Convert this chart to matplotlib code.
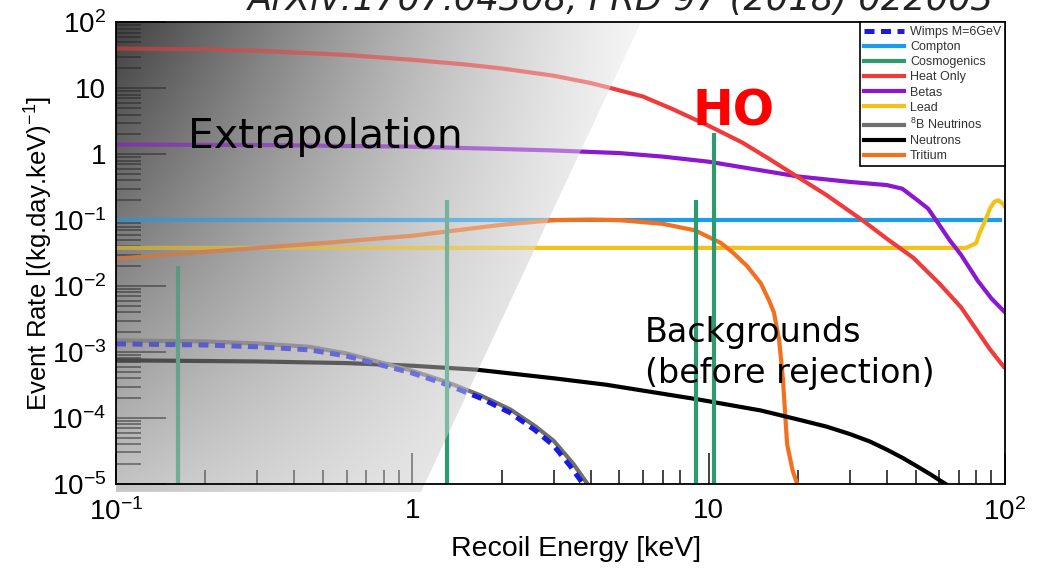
import matplotlib
matplotlib.use("Agg")
import matplotlib.pyplot as plt
import numpy as np
from matplotlib.patches import Polygon
from matplotlib.lines import Line2D

plt.rcParams['font.family'] = ['Liberation Sans', 'DejaVu Sans']
plt.rcParams['mathtext.fontset'] = 'custom'
plt.rcParams['mathtext.rm'] = 'Liberation Sans'
plt.rcParams['mathtext.it'] = 'Liberation Sans:italic'
plt.rcParams['mathtext.bf'] = 'Liberation Sans:bold'

# background spectra, recoil energy [keV] vs rate [(kg.day.keV)^-1]
wimp_x = [0.1, 0.2, 0.3, 0.45, 0.6, 0.76, 1.0, 1.31, 1.7, 2.14, 2.6, 3.0, 3.4, 3.77]
wimp_y = [1.33e-3, 1.28e-3, 1.2e-3, 1.08e-3, 8.7e-4, 6.6e-4, 4.8e-4, 3.2e-4, 2.0e-4, 1.2e-4, 6.5e-5, 3.8e-5, 1.9e-5, 1e-5]

compton_x = [0.1, 96]
compton_y = [0.1, 0.1]

cosmo_x = [0.162, 1.31, 9.06, 10.4]
cosmo_top = [0.02, 0.2, 0.2, 2.1]

heat_x = [0.1, 0.2, 0.3, 0.6, 1, 1.5, 2, 3, 4, 4.7, 6, 7.5, 10, 13, 16, 20, 25, 33, 40, 49, 60, 71, 89, 99]
heat_y = [40, 39, 37, 32, 27, 23, 20, 15.5, 12, 10, 7.5, 4.9, 2.7, 1.5, 0.85, 0.45, 0.24, 0.1, 0.052, 0.027, 0.011, 0.0048, 0.0011, 0.0006]

beta_x = [0.1, 0.3, 1, 2, 3, 5, 7, 10, 15, 20, 30, 40, 45, 50, 55, 60, 65, 71, 81, 90, 100]
beta_y = [1.4, 1.38, 1.3, 1.2, 1.14, 1.04, 0.92, 0.77, 0.57, 0.46, 0.38, 0.34, 0.3, 0.21, 0.15, 0.085, 0.05, 0.03, 0.012, 0.0065, 0.004]

lead_x = [0.1, 74, 80, 82, 85, 89, 92, 95, 98, 100]
lead_y = [0.038, 0.038, 0.045, 0.063, 0.09, 0.15, 0.19, 0.2, 0.18, 0.16]

b8_x = [0.1, 0.2, 0.3, 0.45, 0.6, 0.76, 1.0, 1.31, 1.7, 2.14, 2.6, 3.0, 3.5, 3.9]
b8_y = [1.5e-3, 1.45e-3, 1.35e-3, 1.2e-3, 9.5e-4, 7.2e-4, 5.2e-4, 3.5e-4, 2.2e-4, 1.35e-4, 7.5e-5, 4.5e-5, 2e-5, 1e-5]

neut_x = [0.1, 0.3, 0.6, 1, 1.65, 3, 4.5, 9.3, 15, 20, 25, 30, 35, 40, 45, 50, 56, 63]
neut_y = [7.5e-4, 7.2e-4, 6.8e-4, 6.2e-4, 5.4e-4, 4.0e-4, 3.2e-4, 1.9e-4, 1.3e-4, 9.5e-5, 7.4e-5, 5.7e-5, 4.4e-5, 3.3e-5, 2.5e-5, 1.9e-5, 1.4e-5, 1e-5]

trit_x = [0.1, 0.2, 0.5, 1, 2, 3, 4, 5, 7, 9, 11, 12, 13.5, 15, 16, 16.6, 17.3, 17.8, 18.4, 19.2, 19.9]
trit_y = [0.026, 0.033, 0.045, 0.058, 0.085, 0.1, 0.102, 0.1, 0.088, 0.07, 0.045, 0.033, 0.02, 0.011, 0.006, 0.004, 0.0015, 4e-4, 4e-5, 1.6e-5, 1e-5]

# shaded extrapolation region (keV, rate)
extrap_x = [0.1, 5.9, 1.07, 0.1]
extrap_y = [100, 100, 7.6e-6, 7.6e-6]

xticks = [0.1, 1, 10, 100]
xticklabels = ['10$^{-1}$', '1', '10', '10$^{2}$']
yticks = [1e-5, 1e-4, 1e-3, 1e-2, 1e-1, 1, 10, 100]
yticklabels = ['10$^{-5}$', '10$^{-4}$', '10$^{-3}$', '10$^{-2}$', '10$^{-1}$', '1', '10', '10$^{2}$']

fig = plt.figure(figsize=(10.45, 5.68), dpi=100)
ax = fig.add_axes([0.111, 0.148, 0.8507, 0.8127])
ax.set_xscale('log')
ax.set_yscale('log')
ax.set_xlim(0.1, 100)
ax.set_ylim(1e-5, 100)

lw = 3.0
h_comp, = ax.plot(compton_x, compton_y, color='#1a9bef', lw=lw, label='Compton')
h_lead, = ax.plot(lead_x, lead_y, color='#f3c21a', lw=lw, label='Lead')
h_trit, = ax.plot(trit_x, trit_y, color='#f2701e', lw=lw, label='Tritium')
h_neut, = ax.plot(neut_x, neut_y, color='black', lw=lw, label='Neutrons')
h_b8, = ax.plot(b8_x, b8_y, color='#6f6f6f', lw=lw, label='$^{8}$B Neutrinos')
h_wimp, = ax.plot(wimp_x, wimp_y, color='#1a1ae0', lw=3.6, ls=(0, (2.0, 1.3)),
                  label='Wimps M=6GeV')
h_beta, = ax.plot(beta_x, beta_y, color='#8b17cf', lw=lw, label='Betas')
h_heat, = ax.plot(heat_x, heat_y, color='#ef3b3b', lw=lw, label='Heat Only')
ax.vlines(cosmo_x, 1e-5, cosmo_top, color='#2d9a70', lw=lw)
h_cosmo = Line2D([], [], color='#2d9a70', lw=lw, label='Cosmogenics')

# grey gradient for the extrapolated low-energy part
nx, ny = 400, 300
gx0, gx1, gy0, gy1 = 0.0, 0.62, -0.02, 1.0
u = np.linspace(gx0, gx1, nx)[None, :] / gx1
w = np.linspace(0, 1, ny)[:, None]
shade = 64 + 185 * (1 - (1 - u) ** 1.3 * (1 - 0.72 * w))
shade = np.clip(shade, 0, 255) / 255.0
rgb = np.dstack([shade, shade, shade])

clip = Polygon(list(zip(extrap_x, extrap_y)), closed=True, transform=ax.transData)
for z, a in [(1.0, 1.0), (2.3, 0.45)]:
    im = ax.imshow(rgb, extent=(gx0, gx1, gy0, gy1), transform=ax.transAxes,
                   aspect='auto', origin='upper', zorder=z, alpha=a,
                   interpolation='bilinear')
    im.set_clip_path(clip)
    im.set_clip_box(fig.bbox)
ax.set_xlim(0.1, 100)
ax.set_ylim(1e-5, 100)

ax.set_xticks(xticks)
ax.set_xticklabels(xticklabels)
ax.set_yticks(yticks)
ax.set_yticklabels(yticklabels)
ax.tick_params(axis='both', which='both', direction='in', top=False, right=False,
               labelsize=20, width=1.2, color='#222222')
ax.tick_params(axis='x', which='major', length=22, pad=10)
ax.tick_params(axis='x', which='minor', length=10)
ax.tick_params(axis='y', which='major', length=36, pad=7)
ax.tick_params(axis='y', which='minor', length=18)
for s in ax.spines.values():
    s.set_linewidth(1.3)

ax.set_xlabel('Recoil Energy [keV]', fontsize=20.5)
ax.xaxis.set_label_coords(0.517, -0.112)
ax.set_ylabel('Event Rate [(kg.day.keV)$^{-1}$]', fontsize=18.5)
ax.yaxis.set_label_coords(-0.069, 0.5)

leg = ax.legend(handles=[h_wimp, h_comp, h_cosmo, h_heat, h_beta, h_lead, h_b8, h_neut, h_trit],
                loc='upper right', bbox_to_anchor=(1, 1), borderaxespad=0,
                fontsize=9, labelcolor='#333333', handlelength=3.2, handletextpad=0.5,
                borderpad=0.3, labelspacing=0.25, fancybox=False, framealpha=1,
                edgecolor='black')
leg.get_frame().set_linewidth(1.2)
leg.set_zorder(5)

ax.text(0.175, 1.23, 'Extrapolation', family='DejaVu Sans', fontsize=29.5,
        va='baseline', zorder=4)
ax.text(8.8, 2.75, 'HO', family='DejaVu Sans', fontweight='bold', fontsize=35,
        color='#ff0000', va='baseline', zorder=4)
ax.text(6.1, 1.4e-3, 'Backgrounds', family='DejaVu Sans', fontsize=24,
        va='baseline', zorder=4)
ax.text(6.1, 3.4e-4, '(before rejection)', family='DejaVu Sans', fontsize=24,
        va='baseline', zorder=4)

fig.text(0.237, 0.982, 'ArXiv:1707.04308, PRD 97 (2018) 022003', family='DejaVu Sans',
         style='italic', fontsize=25.5, color='#222222', va='baseline')

fig.savefig('out.png', dpi=100)
